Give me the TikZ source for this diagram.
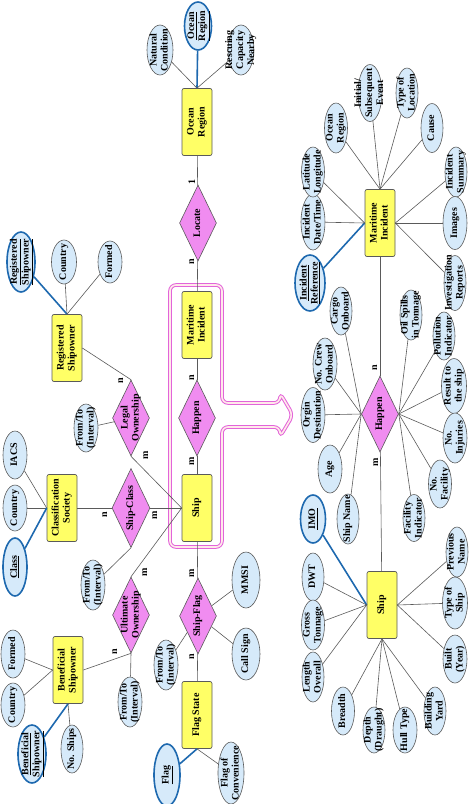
\documentclass[tikz,border=0pt]{standalone}
\usepackage{fontspec}
\setmainfont{Liberation Serif}
\usepackage{graphicx}
\usetikzlibrary{shapes.geometric}
\definecolor{entfill}{RGB}{255,255,102}
\definecolor{relfill}{RGB}{240,140,240}
\definecolor{attfill}{RGB}{214,234,250}
\definecolor{keyblue}{RGB}{30,105,175}
\definecolor{edge}{RGB}{90,90,90}
\definecolor{hilite}{RGB}{226,100,218}
% text turned a quarter, kept out of the node size
\newcommand\tx[1]{\makebox[0pt]{\raisebox{\dimexpr.5\depth-.5\height\relax}[0pt][0pt]{\rotatebox{90}{\begin{tabular}{@{}c@{}}#1\end{tabular}}}}}

\begin{document}
\begin{tikzpicture}[x=1pt,y=-1pt,
  every node/.style={font=\fontsize{10}{11}\selectfont\bfseries, inner sep=0pt},
  sz/.style 2 args={minimum width=#1pt, minimum height=#2pt},
  ent/.style={draw=edge, fill=entfill, rounded corners=2pt, line width=.7pt, sz={30}{67}},
  rel/.style={diamond, draw=edge, fill=relfill, line width=.6pt, sz={37}{76}},
  att/.style={ellipse, draw=edge, fill=attfill, line width=.6pt},
  key/.style={att, draw=keyblue, line width=1.6pt},
  lnk/.style={edge, line width=.6pt},
  keylnk/.style={keyblue, line width=1.6pt}]
\useasboundingbox (0,0) rectangle (474,804);

\draw[draw=hilite, double=pink!35, double distance=1.6pt, line width=1pt, rounded corners=6pt]
  (170,285) -- (222,285) -- (222,403) -- (280,403) -- (280,393) -- (293,415) -- (280,437)
  -- (280,427) -- (222,427) -- (222,547) -- (170,547) -- cycle;

% middle column
\node[ent] (oceanReg) at (197,122) {\tx{Ocean\\Region}};
\node[key, sz={27}{48}] (oceanKey) at (198,26) {\tx{\underline{Ocean}\\\underline{Region}}};
\node[att, sz={26}{50}] (natCond) at (160,50) {\tx{Natural\\Condition}};
\node[att, sz={26}{50}] (rescue) at (241,50) {\tx{Rescuing\\Capacity\\Nearby}};
\node[rel] (locate) at (198,223) {\tx{Locate}};
\node[ent] (incidentL) at (197,325) {\tx{Maritime\\Incident}};
\node[rel] (happenL) at (197,418) {\tx{Happen}};
\node[ent] (shipL) at (197,508) {\tx{Ship}};
\node[rel] (shipFlag) at (198,616) {\tx{Ship-Flag}};
\node[ent] (flagState) at (197,715) {\tx{Flag State}};
\node[key, sz={26}{62}] (flagKey) at (167,775) {\tx{\underline{Flag}}};
\node[att, sz={26}{62}] (flagConv) at (231,773) {\tx{Flag of\\Convenience}};
\node[att, sz={28}{56}] (mmsi) at (246,580) {\tx{MMSI}};
\node[att, sz={28}{52}] (callSign) at (246,654) {\tx{Call Sign}};
\node[att, sz={24}{50}] (flagIntv) at (166,665) {\tx{From/To\\(Interval)}};

% left column
\node[ent] (regOwner) at (67,348) {\tx{Registered\\Shipowner}};
\node[key, sz={28}{60}] (regKey) at (21,262) {\tx{\underline{Registered}\\\underline{Shipowner}}};
\node[att, sz={25}{44}] (regCountry) at (64,262) {\tx{Country}};
\node[att, sz={24}{42}] (regFormed) at (110,262) {\tx{Formed}};
\node[rel] (legal) at (131,418) {\tx{Legal\\Ownership}};
\node[att, sz={24}{48}] (legalIntv) at (86,428) {\tx{From/To\\(Interval)}};
\node[ent] (classSoc) at (62,508) {\tx{Classification\\Society}};
\node[att, sz={24}{48}] (iacs) at (15,455) {\tx{IACS}};
\node[att, sz={24}{46}] (classCountry) at (15,508) {\tx{Country}};
\node[key, sz={24}{58}] (classKey) at (15,567) {\tx{\underline{Class}}};
\node[rel, sz={38}{79}] (shipClass) at (131,508) {\tx{Ship-Class}};
\node[att, sz={24}{50}] (classIntv) at (93,585) {\tx{From/To\\(Interval)}};
\node[rel] (ultimate) at (131,615) {\tx{Ultimate\\Ownership}};
\node[att, sz={24}{50}] (ultIntv) at (130,702) {\tx{From/To\\(Interval)}};
\node[ent] (benOwner) at (68,670) {\tx{Beneficial\\Shipowner}};
\node[att, sz={24}{48}] (benFormed) at (13,654) {\tx{Formed}};
\node[att, sz={24}{44}] (benCountry) at (13,705) {\tx{Country}};
\node[key, sz={28}{58}] (benKey) at (32,754) {\tx{\underline{Beneficial}\\\underline{Shipowner}}};
\node[att, sz={22}{48}] (benShips) at (72,749) {\tx{No. Ships}};

% cardinalities
\node (c1) at (193,182) {\tx{1}};
\node (c2) at (192,262) {\tx{n}};
\node (c3) at (192,378) {\tx{n}};
\node (c4) at (192,461) {\tx{m}};
\node (c5) at (192,573) {\tx{m}};
\node (c6) at (192,657) {\tx{n}};
\node (c7) at (121,381) {\tx{n}};
\node (c8) at (146,455) {\tx{m}};
\node (c9) at (105,515) {\tx{n}};
\node (c10) at (155,515) {\tx{m}};
\node (c11) at (145,572) {\tx{m}};
\node (c12) at (115,652) {\tx{n}};
\node (c13) at (375,368) {\tx{n}};
\node (c14) at (376,462) {\tx{m}};

% right part
\node[ent] (incidentR) at (380,223) {\tx{Maritime\\Incident}};
\node[key, sz={30}{56}] (incRef) at (310,283) {\tx{\underline{Incident}\\\underline{Reference}}};
\node[att, sz={24}{56}] (incDate) at (313,222) {\tx{Incident\\Date/Time}};
\node[att, sz={23}{50}] (latLon) at (313,172) {\tx{Latitude\\Longitude}};
\node[att, sz={23}{50}] (incOcean) at (336,128) {\tx{Ocean\\Region}};
\node[att, sz={24}{57}] (initEvent) at (370,93) {\tx{Initial/\\Subsequent\\Event}};
\node[att, sz={22}{50}] (locType) at (407,93) {\tx{Type of\\Location}};
\node[att, sz={22}{49}] (cause) at (432,128) {\tx{Cause}};
\node[att, sz={22}{50}] (incSum) at (456,172) {\tx{Incident\\Summary}};
\node[att, sz={24}{53}] (images) at (455,223) {\tx{Images}};
\node[att, sz={22}{55}] (invRep) at (455,283) {\tx{Investigation\\Reports}};

\node[rel] (happenR) at (380,414) {\tx{Happen}};
\node[att, sz={22}{48}] (cargo) at (341,311) {\tx{Cargo\\Onboard}};
\node[att, sz={24}{52}] (crew) at (325,364) {\tx{No. Crew\\Onboard}};
\node[att, sz={24}{55}] (origin) at (313,415) {\tx{Orgin\\Destination}};
\node[att, sz={24}{48}] (age) at (330,469) {\tx{Age}};
\node[att, sz={22}{50}] (shipName) at (348,519) {\tx{Ship Name}};
\node[att, sz={22}{50}] (oil) at (411,315) {\tx{Oil Spills\\in Tonnage}};
\node[att, sz={22}{48}] (pollution) at (444,336) {\tx{Pollution\\Indicator}};
\node[att, sz={25}{55}] (result) at (454,386) {\tx{Result to\\the ship}};
\node[att, sz={24}{50}] (injuries) at (455,438) {\tx{No.\\Injuries}};
\node[att, sz={23}{48}] (facility) at (440,484) {\tx{No.\\Facility}};
\node[att, sz={22}{47}] (facInd) at (414,518) {\tx{Facility\\Indicator}};

\node[ent] (shipR) at (382,605) {\tx{Ship}};
\node[key, sz={25}{48}] (imo) at (313,519) {\tx{\underline{IMO}}};
\node[att, sz={22}{48}] (dwt) at (313,577) {\tx{DWT}};
\node[att, sz={23}{50}] (gross) at (313,625) {\tx{Gross\\Tonnage}};
\node[att, sz={22}{50}] (loa) at (313,677) {\tx{Length\\Overall}};
\node[att, sz={23}{48}] (breadth) at (343,711) {\tx{Breadth}};
\node[att, sz={22}{46}] (depth) at (374,730) {\tx{Depth\\(Draught)}};
\node[att, sz={24}{46}] (hull) at (405,730) {\tx{Hull Type}};
\node[att, sz={22}{48}] (yard) at (435,711) {\tx{Building\\Yard}};
\node[att, sz={24}{48}] (built) at (455,659) {\tx{Built\\(Year)}};
\node[att, sz={25}{52}] (shipType) at (455,603) {\tx{Type of\\Ship}};
\node[att, sz={22}{50}] (prevName) at (457,552) {\tx{Previous\\Name}};

% connectors, middle and left
\draw[keylnk] (oceanReg.north) -- (oceanKey);
\draw[lnk] (oceanReg.north) -- (natCond);
\draw[lnk] (oceanReg.north) -- (rescue);
\draw[lnk] (oceanReg) -- (locate);
\draw[lnk] (locate) -- (incidentL);
\draw[lnk] (incidentL) -- (happenL);
\draw[lnk] (happenL) -- (shipL);
\draw[lnk] (shipL) -- (shipFlag);
\draw[lnk] (shipFlag) -- (flagState);
\draw[keylnk] (flagState.south) -- (flagKey);
\draw[lnk] (flagState.south) -- (flagConv);
\draw[lnk] (shipFlag) -- (mmsi);
\draw[lnk] (shipFlag) -- (callSign);
\draw[lnk] (shipFlag) -- (flagIntv);
\draw[keylnk] (regOwner.north) -- (regKey);
\draw[lnk] (regOwner.north) -- (regCountry);
\draw[lnk] (regOwner.north) -- (regFormed);
\draw[lnk] (regOwner.east) -- (legal.north);
\draw[lnk] (legal) -- (legalIntv);
\draw[lnk] (legal.south) -- (shipL.west);
\draw[lnk] (classSoc.west) -- (iacs);
\draw[lnk] (classSoc.west) -- (classCountry);
\draw[keylnk] (classSoc.west) -- (classKey);
\draw[lnk] (classSoc) -- (shipClass);
\draw[lnk] (shipClass) -- (shipL);
\draw[lnk] (shipClass.south) -- (classIntv);
\draw[lnk] (shipL.west) -- (ultimate.north);
\draw[lnk] (ultimate.south) -- (ultIntv);
\draw[lnk] (ultimate.south) -- (benOwner.east);
\draw[lnk] (benOwner.west) -- (benFormed);
\draw[lnk] (benOwner.west) -- (benCountry);
\draw[keylnk] (benOwner.south) -- (benKey);
\draw[lnk] (benOwner.south) -- (benShips);

% connectors, right
\draw[keylnk] (incidentR.west) -- (incRef);
\draw[lnk] (incidentR.west) -- (incDate);
\draw[lnk] (incidentR.west) -- (latLon);
\draw[lnk] (incidentR.north) -- (incOcean);
\draw[lnk] (incidentR.north) -- (initEvent);
\draw[lnk] (incidentR.north) -- (locType);
\draw[lnk] (incidentR.north) -- (cause);
\draw[lnk] (incidentR.east) -- (incSum);
\draw[lnk] (incidentR.east) -- (images);
\draw[lnk] (incidentR.east) -- (invRep);
\draw[lnk] (incidentR) -- (happenR);
\draw[lnk] (happenR.west) -- (cargo);
\draw[lnk] (happenR.west) -- (crew);
\draw[lnk] (happenR.west) -- (origin);
\draw[lnk] (happenR.west) -- (age);
\draw[lnk] (happenR.west) -- (shipName);
\draw[lnk] (happenR.east) -- (oil);
\draw[lnk] (happenR.east) -- (pollution);
\draw[lnk] (happenR.east) -- (result);
\draw[lnk] (happenR.east) -- (injuries);
\draw[lnk] (happenR.east) -- (facility);
\draw[lnk] (happenR.east) -- (facInd);
\draw[lnk] (happenR) -- (shipR);
\draw[keylnk] (shipR.west) -- (imo);
\draw[lnk] (shipR.west) -- (dwt);
\draw[lnk] (shipR.west) -- (gross);
\draw[lnk] (shipR.west) -- (loa);
\draw[lnk] (shipR.south) -- (breadth);
\draw[lnk] (shipR.south) -- (depth);
\draw[lnk] (shipR.south) -- (hull);
\draw[lnk] (shipR.south) -- (yard);
\draw[lnk] (shipR.east) -- (built);
\draw[lnk] (shipR.east) -- (shipType);
\draw[lnk] (shipR.east) -- (prevName);
\end{tikzpicture}
\end{document}
